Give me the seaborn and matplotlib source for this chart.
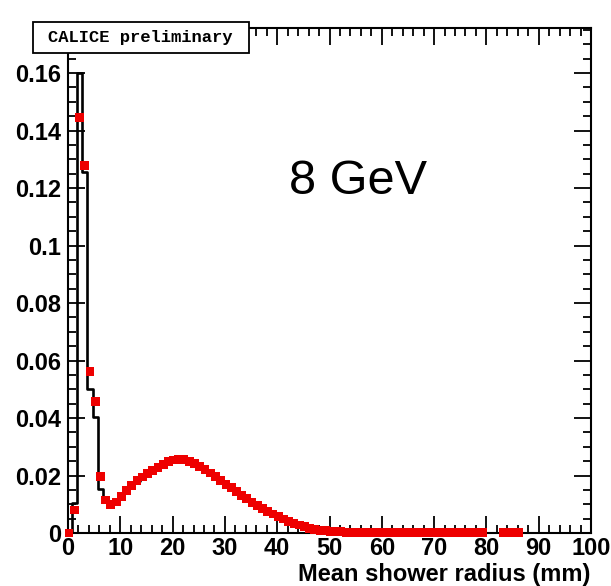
import numpy as np
import pandas as pd
import matplotlib
matplotlib.use("Agg")
import matplotlib.pyplot as plt
from matplotlib.patches import Rectangle
from matplotlib.ticker import MultipleLocator, FuncFormatter
import seaborn as sns

# Binning of the mean shower radius (mm): 1 mm bins
bin_width = 1.0
first_center = 0.2

# Measured distribution (red squares), NaN where the bin is empty
data_values = [
    0.0000, 0.0080, 0.1445, 0.1278, 0.0561, 0.0457, 0.0196, 0.0115, 0.0098, 0.0108,
    0.0128, 0.0148, 0.0166, 0.0182, 0.0195, 0.0207, 0.0218, 0.0229, 0.0239, 0.0248,
    0.0254, 0.0257, 0.0255, 0.0250, 0.0242, 0.0232, 0.0221, 0.0209, 0.0196, 0.0183,
    0.0170, 0.0157, 0.0144, 0.0131, 0.0119, 0.0107, 0.0096, 0.0085, 0.0075, 0.0066,
    0.0057, 0.0049, 0.0041, 0.0034, 0.0028, 0.0022, 0.0017, 0.0013, 0.0010, 0.0008,
    0.0006, 0.0005, 0.0004, 0.0003, 0.0003, 0.0002, 0.0002, 0.0002, 0.0002, 0.0002,
    0.0002, 0.0001, 0.0001, 0.0001, 0.0001, 0.0001, 0.0001, 0.0001, 0.0001, 0.0001,
    0.0001, 0.0001, 0.0001, 0.0001, 0.0001, 0.0001, 0.0001, 0.0001, 0.0001, 0.0001,
    np.nan, np.nan, np.nan, 0.0001, 0.0001, 0.0001, 0.0001, np.nan,
]

# Simulated distribution (black histogram)
sim_values = [
    0.0000, 0.0104, 0.1600, 0.1257, 0.0500, 0.0402, 0.0152, 0.0126, 0.0102, 0.0100,
    0.0125, 0.0146, 0.0165, 0.0181, 0.0194, 0.0206, 0.0217, 0.0228, 0.0238, 0.0247,
    0.0253, 0.0256, 0.0254, 0.0249, 0.0241, 0.0231, 0.0220, 0.0208, 0.0195, 0.0182,
    0.0169, 0.0156, 0.0143, 0.0130, 0.0118, 0.0106, 0.0095, 0.0084, 0.0074, 0.0065,
    0.0056, 0.0048, 0.0040, 0.0033, 0.0027, 0.0021, 0.0016, 0.0012, 0.0009, 0.0007,
    0.0005, 0.0004, 0.0003, 0.0002, 0.0002, 0.0002, 0.0001, 0.0001, 0.0001, 0.0001,
    0.0001, 0.0001, 0.0001, 0.0001, 0.0001, 0.0000, 0.0000, 0.0000, 0.0000, 0.0000,
]

x_tick_values = [0, 10, 20, 30, 40, 50, 60, 70, 80, 90, 100]
y_tick_values = [0, 0.02, 0.04, 0.06, 0.08, 0.10, 0.12, 0.14, 0.16]

x_label = "Mean shower radius (mm)"
energy_label = "8 GeV"
banner = "CALICE preliminary"

data_df = pd.DataFrame({
    "radius": first_center + bin_width * np.arange(len(data_values)),
    "fraction": data_values,
})
sim_df = pd.DataFrame({
    "radius": first_center + bin_width * np.arange(len(sim_values)),
    "fraction": sim_values,
})
sim_lo = float(sim_df["radius"].iloc[0] - bin_width / 2)
sim_hi = float(sim_df["radius"].iloc[-1] + bin_width / 2)

sns.set_style("ticks")
plt.rcParams["font.family"] = ["Liberation Sans", "DejaVu Sans"]
plt.rcParams["text.color"] = "black"
plt.rcParams["xtick.color"] = "black"
plt.rcParams["ytick.color"] = "black"
plt.rcParams["axes.labelcolor"] = "black"

W, H = 611, 586
fig = plt.figure(figsize=(W / 100, H / 100), dpi=100)
ax = fig.add_axes([68 / W, 1 - 533 / H, (591 - 68) / W, (533 - 28) / H])

sns.histplot(data=sim_df, x="radius", weights="fraction",
             binwidth=bin_width, binrange=(sim_lo, sim_hi),
             element="step", fill=False, color="black", linewidth=1.9,
             stat="count", ax=ax, zorder=2)

sns.scatterplot(data=data_df, x="radius", y="fraction", marker="s", s=40,
                color="#ee0000", edgecolor="none", linewidth=0, ax=ax,
                zorder=3, clip_on=False)

ax.set_xlim(0, 100)
ax.set_ylim(0, 0.1757)
ax.set_xlabel("")
ax.set_ylabel("")

ax.set_xticks(x_tick_values)
ax.set_yticks(y_tick_values)
ax.xaxis.set_minor_locator(MultipleLocator(2))
ax.yaxis.set_minor_locator(MultipleLocator(0.005))
ax.yaxis.set_major_formatter(FuncFormatter(lambda v, p: "%g" % round(v, 4)))
ax.xaxis.set_major_formatter(FuncFormatter(lambda v, p: "%g" % v))

ax.tick_params(which="both", direction="in", top=True, right=True,
               width=1.3, color="black", labelcolor="black")
ax.tick_params(which="major", length=12)
ax.tick_params(which="minor", length=6)
ax.tick_params(axis="y", which="major", labelsize=17, pad=5)
ax.tick_params(axis="x", which="major", labelsize=17, pad=3)
for lab in ax.get_xticklabels() + ax.get_yticklabels():
    lab.set_fontweight("bold")

for sp in ax.spines.values():
    sp.set_visible(True)
    sp.set_linewidth(1.5)
    sp.set_color("black")

fig.text(590 / W, 1 - 575 / H, x_label, ha="right", va="center",
         fontsize=17, fontweight="bold", color="black")

fig.text(358 / W, 1 - 182 / H, energy_label, ha="center", va="center",
         fontsize=35, color="black")

# Banner box in the upper-left corner
fig.add_artist(Rectangle((33 / W, 1 - 53 / H), (249 - 33) / W, (53 - 22) / H,
                         transform=fig.transFigure, facecolor="white",
                         edgecolor="black", linewidth=1.3, zorder=10))
fig.text(140 / W, 1 - 37.5 / H, banner, ha="center", va="center",
         fontsize=12.3, fontweight="bold", family="Liberation Mono",
         color="black", zorder=11)

fig.savefig("out.png", dpi=100)
